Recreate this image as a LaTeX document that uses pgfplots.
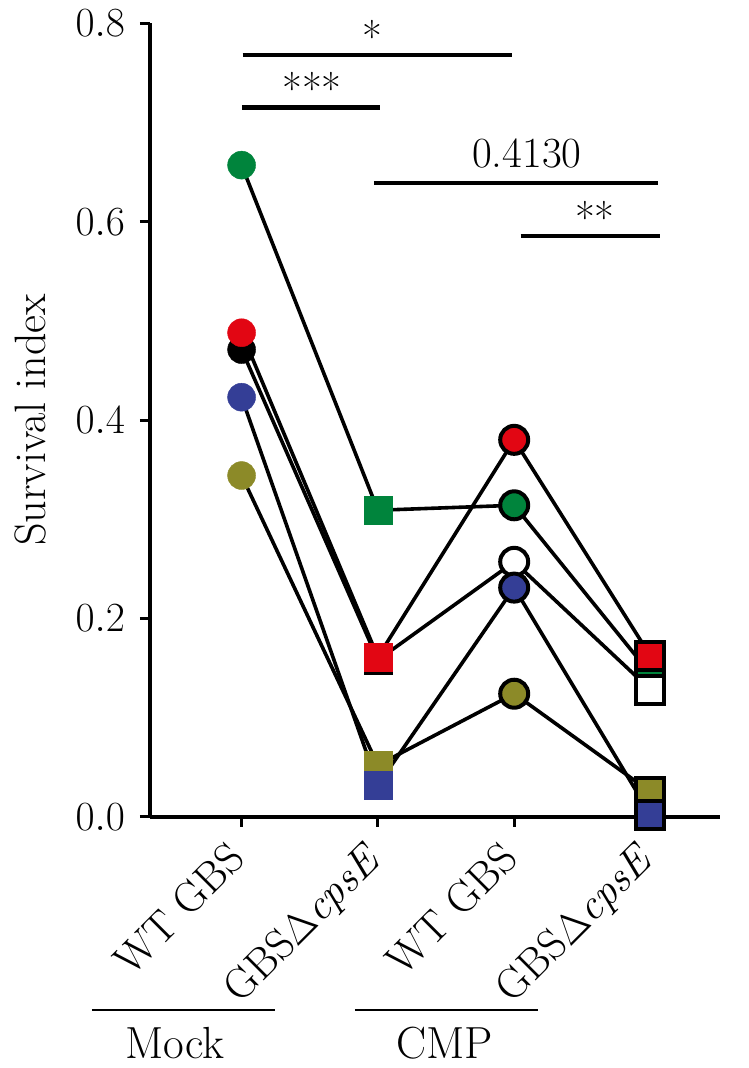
\documentclass[border=0pt]{standalone}
\usepackage{pgfplots}
\usepackage{pgfplotstable}
\pgfplotsset{compat=1.18}
\definecolor{cgreen}{RGB}{0,132,60}
\definecolor{cred}{RGB}{226,6,19}
\definecolor{cblack}{RGB}{0,0,0}
\definecolor{cblue}{RGB}{52,62,150}
\definecolor{colive}{RGB}{140,138,40}
\definecolor{fgreen}{RGB}{0,132,60}
\definecolor{fred}{RGB}{226,6,19}
\definecolor{fblack}{RGB}{255,255,255}
\definecolor{fblue}{RGB}{52,62,150}
\definecolor{folive}{RGB}{140,138,40}
\pgfplotstableread{
x green red black blue olive
0 0.657 0.488 0.471 0.423 0.344
1 0.309 0.161 0.158 0.032 0.052
2 0.314 0.380 0.257 0.231 0.124
3 0.144 0.162 0.128 0.002 0.025
}\data
\begin{document}
\begin{tikzpicture}[font=\fontsize{21.5}{24}\selectfont]
\useasboundingbox (-75pt,-125.65pt) rectangle (299pt,408.35pt);
\begin{axis}[
  at={(0,0)}, anchor=south west, scale only axis,
  width=285pt, height=396.7pt,
  xmin=-0.672, xmax=3.51, ymin=0, ymax=0.8,
  clip=false,
  axis lines=left,
  axis line style={-, line width=1.8pt},
  tick align=outside, major tick length=5pt,
  tick style={line width=1.5pt, black},
  xtick={0,1,2,3},
  xticklabels={WT GBS, GBS$\Delta$\textit{cpsE}, WT GBS, GBS$\Delta$\textit{cpsE}},
  tick label style={font=\fontsize{22}{24}\selectfont},
  xticklabel style={rotate=45, anchor=north east, inner sep=1pt, xshift=-9pt, yshift=2pt, font=\fontsize{21.5}{24}\selectfont},
  ytick={0,0.2,0.4,0.6,0.8},
  yticklabel style={xshift=-4pt, /pgf/number format/.cd, fixed, fixed zerofill, precision=1},
  ylabel={Survival index},
  ylabel style={at={(axis description cs:-0.2105,0.5)}, anchor=center, font=\fontsize{22}{24}\selectfont},
]
\pgfplotsinvokeforeach{green,red,black,blue,olive}{
  \addplot[black, line width=1.8pt, mark=none] table[x=x,y=#1]{\data};
}
\pgfplotsinvokeforeach{green,black,olive,blue,red}{
  \addplot[only marks, mark=*, mark size=7pt, mark options={draw=c#1, fill=c#1, line width=0.2pt}, restrict x to domain=-0.1:0.1] table[x=x,y=#1]{\data};
  \addplot[only marks, mark=square*, mark size=7pt, mark options={draw=c#1, fill=c#1, line width=0.2pt}, restrict x to domain=0.9:1.1] table[x=x,y=#1]{\data};
  \addplot[only marks, mark=*, mark size=7pt, mark options={draw=black, fill=f#1, line width=2pt}, restrict x to domain=1.9:2.1] table[x=x,y=#1]{\data};
  \addplot[only marks, mark=square*, mark size=7pt, mark options={draw=black, fill=f#1, line width=2pt}, restrict x to domain=2.9:3.1] table[x=x,y=#1]{\data};
}
% significance bars
\draw[line width=2.2pt] (axis cs:0.007,0.768) -- (axis cs:1.981,0.768);
\node[anchor=south, inner sep=0pt, yshift=1pt] at (axis cs:0.963,0.768) {*};
\draw[line width=2.2pt] (axis cs:0.002,0.7153) -- (axis cs:1.015,0.7153);
\node[anchor=south, inner sep=0pt, yshift=1pt] at (axis cs:0.516,0.7153) {***};
\draw[line width=2.2pt] (axis cs:0.970,0.639) -- (axis cs:3.054,0.639);
\node[anchor=south, inner sep=0pt, yshift=7pt] at (axis cs:2.093,0.639) {0.4130};
\draw[line width=2.2pt] (axis cs:2.047,0.5855) -- (axis cs:3.069,0.5855);
\node[anchor=south, inner sep=0pt, yshift=1pt] at (axis cs:2.592,0.5855) {**};
% group labels
\draw[line width=1pt] (axis cs:-1.098,-0.195) -- (axis cs:0.244,-0.195);
\node[font=\fontsize{22.5}{24}\selectfont] at (axis cs:-0.489,-0.228) {Mock};
\draw[line width=1pt] (axis cs:0.832,-0.195) -- (axis cs:2.174,-0.195);
\node[font=\fontsize{22.5}{24}\selectfont] at (axis cs:1.491,-0.228) {CMP};
\end{axis}
\end{tikzpicture}
\end{document}
